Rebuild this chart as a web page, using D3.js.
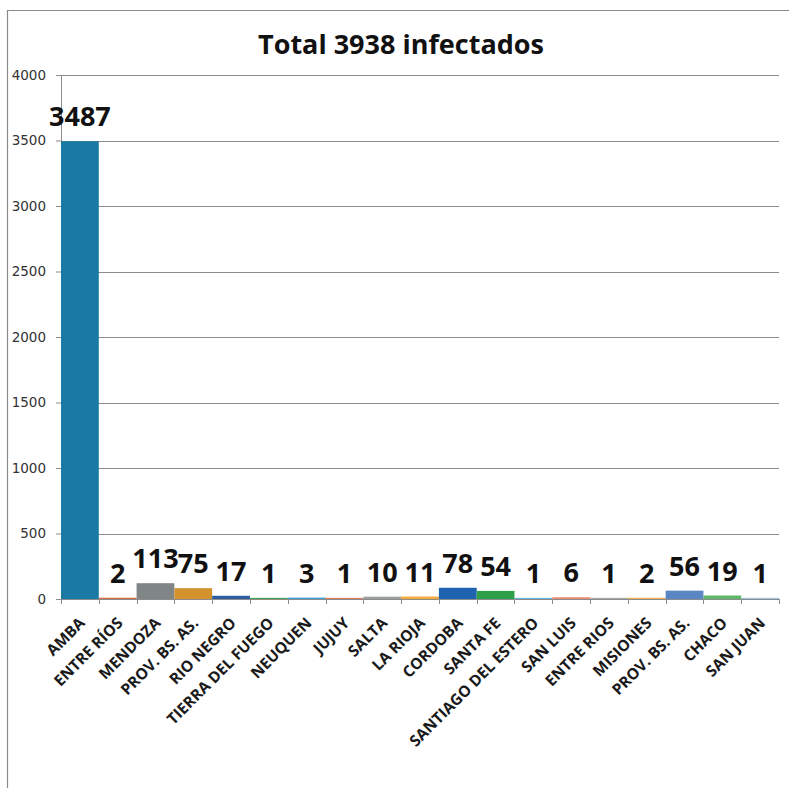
<!DOCTYPE html>
<html>
<head>
<meta charset="utf-8">
<script src="https://cdn.jsdelivr.net/npm/d3@7"></script>
<style>
  body { margin: 0; background: #fff; }
  svg { display: block; }
</style>
</head>
<body>
<div id="chart"></div>
<script>
var svgWidth = 789;
var svgHeight = 788;

// chart data
var provinces = ["AMBA", "ENTRE RÍOS", "MENDOZA", "PROV. BS. AS.", "RIO NEGRO", "TIERRA DEL FUEGO",
  "NEUQUEN", "JUJUY", "SALTA", "LA RIOJA", "CORDOBA", "SANTA FE", "SANTIAGO DEL ESTERO",
  "SAN LUIS", "ENTRE RIOS", "MISIONES", "PROV. BS. AS.", "CHACO", "SAN JUAN"];
var infected = [3487, 2, 113, 75, 17, 1, 3, 1, 10, 11, 78, 54, 1, 6, 1, 2, 56, 19, 1];
var barColors = ["#1a7aa3", "#d9694a", "#7f8685", "#d4922e", "#2c5fa0", "#4a9e50", "#3fa0d0",
  "#e07a58", "#9aa0a0", "#f0a93a", "#1e63b0", "#2fa04a", "#6ab0dc", "#ea8c70", "#a8a8a8",
  "#f3b050", "#5b86c4", "#5fb56a", "#9ac2e2"];
var yTicks = [0, 500, 1000, 1500, 2000, 2500, 3000, 3500, 4000];
var chartTitle = "Total 3938 infectados";

var margin = { top: 75, right: 10, bottom: 189, left: 61 };
var width = 779 - margin.left;
var height = svgHeight - margin.top - margin.bottom;

var svg = d3.select("#chart")
  .append("svg")
  .attr("width", svgWidth)
  .attr("height", svgHeight);

// outer frame (only top and left edges visible)
svg.append("path")
  .attr("d", "M7.5," + svgHeight + "V10.5H" + svgWidth)
  .attr("fill", "none")
  .attr("stroke", "#8a8a8a")
  .attr("stroke-width", 1.2);

svg.append("text")
  .attr("x", 401)
  .attr("y", 54)
  .attr("text-anchor", "middle")
  .attr("font-family", "Open Sans")
  .attr("font-weight", "bold")
  .attr("font-size", "27px")
  .attr("fill", "#111")
  .text(chartTitle);

var chartGroup = svg.append("g")
  .attr("transform", `translate(${margin.left}, ${margin.top})`);

var xScale = d3.scaleBand()
  .domain(d3.range(provinces.length))
  .range([0, width])
  .padding(0);

var yScale = d3.scaleLinear()
  .domain([0, 4000])
  .range([height, 0]);

// gridlines
chartGroup.append("g")
  .selectAll("line")
  .data(yTicks.slice(1))
  .enter()
  .append("line")
  .attr("x1", 0)
  .attr("x2", width)
  .attr("y1", d => Math.round(yScale(d)) + 0.5)
  .attr("y2", d => Math.round(yScale(d)) + 0.5)
  .attr("stroke", "#8c8c8c")
  .attr("stroke-width", 1);

// y axis
var leftAxis = d3.axisLeft(yScale)
  .tickValues(yTicks)
  .tickSize(5)
  .tickPadding(10)
  .tickFormat(d3.format("d"));

var yAxisG = chartGroup.append("g").call(leftAxis);
yAxisG.select(".domain").attr("stroke", "#8c8c8c");
yAxisG.selectAll(".tick line").attr("stroke", "#8c8c8c");
yAxisG.selectAll(".tick text")
  .attr("font-family", "DejaVu Sans")
  .attr("font-size", "13.5px")
  .attr("fill", "#333");

// bars
chartGroup.selectAll("rect.bar")
  .data(infected)
  .enter()
  .append("rect")
  .attr("class", "bar")
  .attr("x", (d, i) => xScale(i))
  .attr("width", xScale.bandwidth())
  .attr("y", d => yScale(d) - 1)
  .attr("height", d => height - yScale(d) + 1)
  .attr("fill", (d, i) => barColors[i]);

// x axis line and boundary ticks
chartGroup.append("line")
  .attr("x1", 0)
  .attr("x2", width)
  .attr("y1", height + 0.5)
  .attr("y2", height + 0.5)
  .attr("stroke", "#8c8c8c");

chartGroup.append("g")
  .selectAll("line")
  .data(d3.range(provinces.length + 1))
  .enter()
  .append("line")
  .attr("x1", i => Math.round(i * xScale.step()) + 0.5)
  .attr("x2", i => Math.round(i * xScale.step()) + 0.5)
  .attr("y1", height)
  .attr("y2", height + 5)
  .attr("stroke", "#8c8c8c");

// category labels
chartGroup.append("g")
  .selectAll("text")
  .data(provinces)
  .enter()
  .append("text")
  .attr("transform", (d, i) => `translate(${xScale(i) + xScale.bandwidth() / 2 + 6}, ${height + 25}) rotate(-45)`)
  .attr("text-anchor", "end")
  .attr("font-family", "Open Sans")
  .attr("font-weight", "bold")
  .attr("font-size", "15.5px")
  .attr("fill", "#1a1a1a")
  .text(d => d);

// value labels
chartGroup.append("g")
  .selectAll("text")
  .data(infected)
  .enter()
  .append("text")
  .attr("x", (d, i) => xScale(i) + xScale.bandwidth() / 2)
  .attr("y", d => yScale(d) - 16)
  .attr("text-anchor", "middle")
  .attr("font-family", "Open Sans")
  .attr("font-weight", "bold")
  .attr("font-size", "27px")
  .attr("fill", "#111")
  .text(d => d);
</script>
</body>
</html>
